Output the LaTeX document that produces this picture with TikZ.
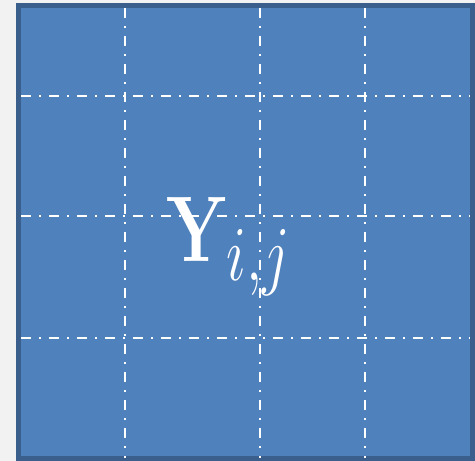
\documentclass[tikz,border=0pt]{standalone}
\usepackage{amsmath,amssymb}
\usepackage{xcolor}
\usepackage{tikz}
\usetikzlibrary{positioning,calc}

\definecolor{cellblue}{HTML}{4F81BD}
\definecolor{cellrim}{HTML}{3A5F8D}
\definecolor{pagegray}{HTML}{F2F2F2}

\begin{document}
\begin{tikzpicture}[
  x=1pt, y=-1pt,
  block/.style={draw=cellrim, line width=5pt, fill=cellblue},
  gridline/.style={draw=white, line width=2.2pt, dash pattern=on 10pt off 8pt on 2pt off 8pt},
  label/.style={text=white, inner sep=0pt, anchor=base west},
]
  \fill[pagegray] (0,0) rectangle (475,461);
  \useasboundingbox (0,0) rectangle (475,461);

  \draw[block] (18.5,5.5) rectangle (472.5,458.5);

  % grid lines
  \foreach \gx in {125,260,365}
    \draw[gridline] (\gx,8) -- (\gx,458);
  \foreach \gy in {96,216,338}
    \draw[gridline] (21,\gy) -- (470,\gy);

  \node[label] (yij) at (166,261)
    {\scalebox{2.85}[3.75]{\Huge$\mathbf{Y}_{\lower1.6pt\hbox{$\scriptstyle i,j$}}$}};
\end{tikzpicture}
\end{document}
